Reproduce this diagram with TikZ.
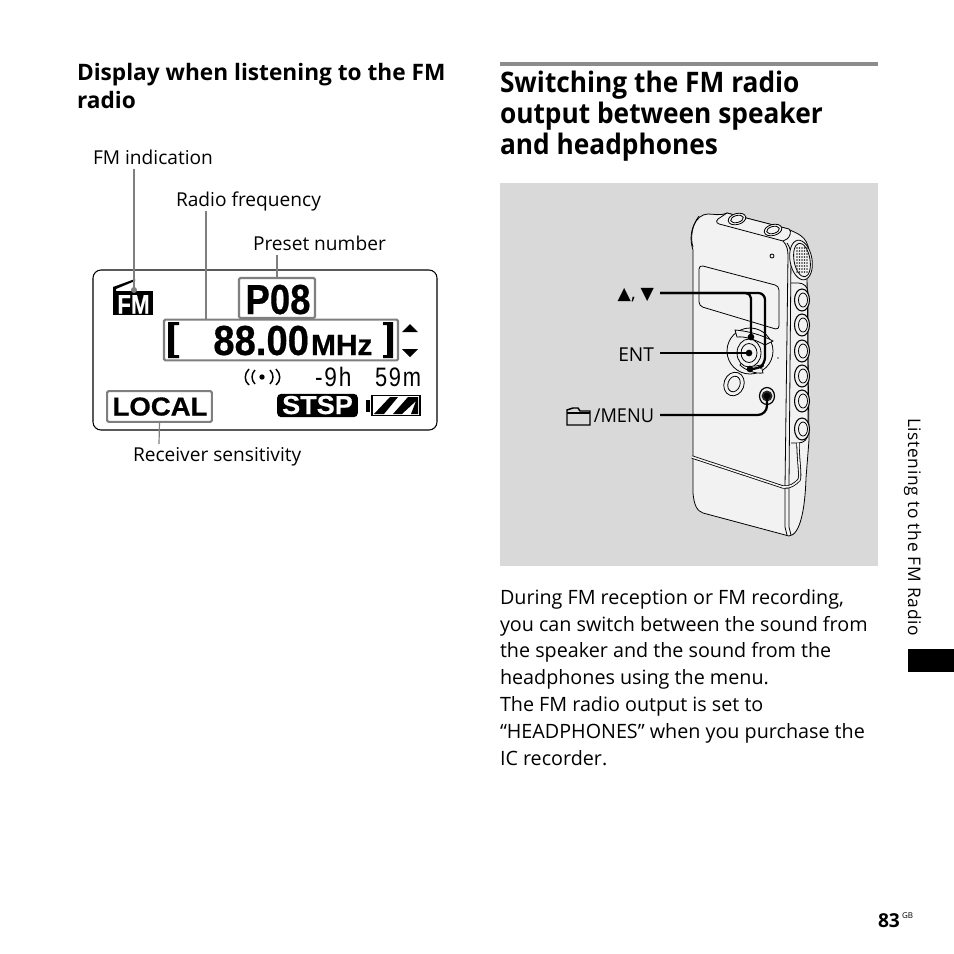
\documentclass[tikz,border=0pt]{standalone}
\usepackage{fontspec}
\setmainfont{Open Sans}
\newfontfamily\lcdfont{Liberation Sans}
\newfontfamily\lcdbold[UprightFont=* Bold,FakeBold=0.5]{Liberation Sans}
\newfontfamily\symfont{DejaVu Sans}
\newcommand{\fs}[1]{\fontsize{#1}{#1}\selectfont}
\definecolor{panel}{HTML}{D9D9D9}
\definecolor{leadgrey}{HTML}{7F7F7F}
\definecolor{devbody}{HTML}{F2F2F2}
\usetikzlibrary{calc}
\tikzset{
  every node/.style={inner sep=0pt,outer sep=0pt},
  h2text/.style={anchor=base west,font=\fs{17}\bfseries},
  h1text/.style={anchor=base west,font=\fs{21.2}\bfseries},
  bodytext/.style={anchor=base west,font=\fs{14.8}},
  labeltext/.style={anchor=base west,font=\fs{14.35}},
  lcdbox/.style={draw=leadgrey,line width=1.6pt,rounded corners=1pt},
  greylead/.style={draw=leadgrey,line width=0.9pt},
  blacklead/.style={draw=black,line width=1.7pt,rounded corners=4pt},
  leaddot/.style={circle,fill=black,minimum size=5pt},
  greydot/.style={circle,fill=leadgrey,minimum size=5pt},
  dev/.style={draw=black,line width=0.6pt},
  devfill/.style={draw=black,line width=0.6pt,fill=devbody},
}
\begin{document}
\begin{tikzpicture}[x=0.75pt,y=-0.75pt]
\useasboundingbox (0,0) rectangle (954,954);
\fill[white] (0,0) rectangle (954,954);
% headings
\node[h2text] (h2a) at (77,80) {Display when listening to the FM};
\node[h2text] (h2b) at (77,108) {radio};
\fill[black!45] (500,62) rectangle (878,66);
\node[h1text] (h1a) at (500,92.5) {\scalebox{0.93}[1]{Switching the FM radio}};
\node[h1text] (h1b) at (500,123.5) {\scalebox{0.93}[1]{output between speaker}};
\node[h1text] (h1c) at (500,154.5) {\scalebox{0.93}[1]{and headphones}};
% LCD
\draw[black,line width=0.8pt,rounded corners=6pt] (93,270) rectangle (437,430);
\node[lcdbox,minimum width=57pt,minimum height=30pt] (p08box) at (277,298) {};
\node[lcdbox,minimum width=175.5pt,minimum height=30.5pt] (freqbox) at (281,340) {};
\node[lcdbox,minimum width=78.5pt,minimum height=23pt] (localbox) at (159.5,406.5) {};
\node[anchor=base,font=\lcdbold\fs{31.5}] (p08) at (278,314) {\scalebox{0.87}[1]{P08}};
\node[anchor=base east,font=\lcdbold\fs{31.5}] (freq) at (309,355) {\scalebox{0.91}[1]{88.00}};
\node[anchor=base west,font=\lcdbold\fs{22}] (mhz) at (311,355) {\scalebox{1.02}[1]{MHz}};
\fill (168,322) -- (179,322) -- (179,325) -- (174,325) -- (174,355) -- (179,355) -- (179,358) -- (168,358) -- cycle;
\fill (393,322) -- (383,322) -- (383,325) -- (387,325) -- (387,355) -- (383,355) -- (383,358) -- (393,358) -- cycle;
\fill (410,324) -- (418,332) -- (402,332) -- cycle;
\fill (410,357) -- (418,349) -- (402,349) -- cycle;
\node[anchor=base west,font=\lcdfont\fs{20}\addfontfeature{LetterSpace=8}] (time) at (315,386) {\scalebox{0.85}[1]{-9h}};
\node[anchor=base west,font=\lcdfont\fs{20}\addfontfeature{LetterSpace=8}] (time2) at (375,386) {\scalebox{0.82}[1]{59m}};
\fill (262,377) circle (2pt);
\draw[line width=1.1pt] (255,370) .. controls (251,374) and (251,380) .. (255,384);
\draw[line width=1.1pt] (249,369) .. controls (244,374) and (244,381) .. (249,385);
\draw[line width=1.1pt] (270,370) .. controls (274,374) and (274,380) .. (270,384);
\draw[line width=1.1pt] (276,369) .. controls (281,374) and (281,381) .. (276,385);
\node[anchor=base,font=\lcdbold\fs{19.5}] (local) at (160,415.5) {\scalebox{1.06}[1]{LOCAL}};
\node[fill=black,rounded corners=3pt,minimum width=60.5pt,minimum height=17.5pt] (stspbox) at (317.5,405.5) {};
\node[anchor=base,text=white,font=\lcdbold\fs{19.5}] (stsp) at (317.5,414) {\scalebox{1.04}[1]{STSP}};
\draw[line width=1.4pt] (372,395.5) rectangle (420,415.5);
\fill (366,400) rectangle (370,412);
\fill (374,414) -- (390,397) -- (398,397) -- (384,414) -- cycle;
\fill (393,414) -- (408,397) -- (418,397) -- (418,414) -- (411,414) -- (416,401) -- (402,414) -- cycle;
\node[fill=black,minimum width=30pt,minimum height=18pt] (fmbox) at (133,303) {};
\node[anchor=base,text=white,font=\lcdbold\fs{20}] (fm) at (133.5,313.5) {\scalebox{0.84}[1]{FM}};
\fill (113,292) -- (113,287) -- (135,279) -- (135,281) -- (116,289) -- (116,292) -- cycle;
% LCD labels
\node[labeltext] (lfm) at (93,164) {FM indication};
\node[labeltext] (lrf) at (176,206) {Radio frequency};
\node[labeltext] (lpn) at (253,250) {Preset number};
\node[labeltext] (lrs) at (133,461) {Receiver sensitivity};
\coordinate (fmtop) at (134,169);
\coordinate (rftop) at (206,211);
\coordinate (pntop) at (277,255);
\coordinate (rsbot) at (159,444);
\node[greydot,minimum size=4.5pt] (fmdot) at (134,290) {};
\draw[greylead] (fmtop) -- (fmdot.center);
\draw[greylead] (rftop) -- (206,319);
\draw[greylead] (pntop) -- (p08box.north);
\draw[greylead] (localbox.south) -- (rsbot);
% Grey panel
\fill[panel] (500,183) rectangle (878,566);
% Device
\path[devfill] (693,493) -- (693,250) .. controls (687,232) and (696,214) .. (708,214)
  .. controls (714,214) and (720,216) .. (727,213) -- (788,229)
  .. controls (795,233) and (808,235) .. (809,252) .. controls (811,262) and (808,272) .. (807,275)
  -- (809,440) -- (806,478) .. controls (805,510) and (800,535) .. (789,536)
  -- (703,513) .. controls (697,511) and (694,505) .. (693,493) -- cycle;
% top plate
\draw[devfill] (727,213) -- (789,229) .. controls (792,231) and (790,237) .. (787,239) -- (783,241)
  -- (723,225) .. controls (717,224) and (715,222) .. (718,219) -- cycle;
\draw[dev] (699,216) .. controls (692,225) and (690,238) .. (693,247);
\draw[devfill,rotate around={15:(737,219)}] (737,219) ellipse (9 and 5.5);
\draw[dev,rotate around={15:(737,219)}] (737,219) ellipse (6.5 and 3.5);
\draw[devfill,rotate around={15:(773,230)}] (773,230) ellipse (9 and 5.5);
\draw[dev,rotate around={15:(773,230)}] (773,230) ellipse (6.5 and 3.5);
\draw[dev] (772,256) circle (2);
% front-right edges
\draw[dev] (783,241) .. controls (787,245) and (788,250) .. (788,256) -- (785,487) -- (785,527) -- (787,535);
\draw[dev] (787,243) .. controls (790,247) and (791,252) .. (791,256) -- (789,485) -- (789,527) -- (791,535);
% microphone
\draw[devfill,rotate around={10:(801,260)}] (801,260) ellipse (11 and 20);
\draw[dev,rotate around={10:(802,260)}] (802,260) ellipse (8 and 17);
\foreach \dx in {-5,-2.5,0,2.5,5} \foreach \dy in {-12,-9,-6,-3,0,3,6,9,12}
  \fill[black!85] (802+\dx,260+\dy) circle (0.9);
% LCD window
\draw[dev,rounded corners=3pt] (699,265) -- (779,286) -- (779,330) -- (699,306) -- cycle;
% side button strip
\draw[dev,rounded corners=7pt] (791,283) -- (808,283) -- (808,443) -- (791,443);
\foreach \yy in {300,325,351,376,401,429} {
  \draw[devfill,line width=0.8pt] (802,\yy) ellipse (7.5 and 11);
  \draw[dev] (803,\yy) ellipse (4.5 and 7);
}
% control pad
\draw[dev] (750,351) ellipse (23 and 23);
\draw[devfill] (735,330) .. controls (748,331) and (762,335) .. (773,341) -- (765,345) .. controls (756,340) and (745,336) .. (737,337) -- cycle;
\draw[devfill] (740,365) .. controls (745,370) and (755,374) .. (763,373) -- (761,365) .. controls (755,367) and (746,366) .. (742,362) -- cycle;
\draw[devfill] (749,353) ellipse (12 and 14);
\draw[dev] (749,353) ellipse (8 and 9.5);
\fill[black!70] (778,358) circle (0.8);
% round buttons
\draw[devfill,rotate around={-20:(734,384)}] (734,384) ellipse (10 and 12);
\draw[dev,rotate around={-20:(734,384)}] (734,384) ellipse (6 and 8);
\draw[devfill,line width=0.9pt] (767,396) ellipse (7.5 and 8.5);
\fill[black!85] (767,396) circle (5.5);
% band
\draw[dev,double=devbody,double distance=1.2pt] (692,457) -- (783,487) .. controls (790,488) and (795,484) .. (799,480) .. controls (801,476) and (798,460) .. (798,443);
% leaders
\node[leaddot] (updot) at (751,337) {};
\node[leaddot] (entdot) at (749,353) {};
\node[leaddot] (downdot) at (750,369) {};
\node[leaddot] (menudot) at (767,396) {};
% labels on panel
\node[anchor=base east,font=\fs{14.35}] (larrows) at (654,299) {{\symfont\fs{13}▲}, {\symfont\fs{13}▼}};
\node[anchor=base east,font=\fs{14.35}] (lent) at (654,361) {ENT};
\node[anchor=base east,font=\fs{14.35}] (lmenu) at (654,422) {\scalebox{0.95}[1]{/MENU}};
\draw[line width=1.1pt] (590,425) -- (567,425) -- (567,410) -- (573,408) -- (578,408) -- (580,411) -- (590,411) -- cycle;
\draw[line width=1.1pt] (567,413) -- (590,413);
\coordinate (a1) at (660,293);
\coordinate (a2) at (660,353);
\coordinate (a3) at (660,415);
\draw[blacklead] (a1) -- (751,293) -- (updot.center);
\draw[blacklead,rounded corners=5pt] (a1) -- (765,293) -- (765,364) -- (758,369) -- (downdot.center);
\draw[blacklead] (a2) -- (entdot.center);
\draw[blacklead,rounded corners=7pt] (a3) -- (767,415) -- (menudot.center);
% body
\node[bodytext] (b1) at (500,604) {During FM reception or FM recording,};
\node[bodytext] (b2) at (500,631) {you can switch between the sound from};
\node[bodytext] (b3) at (500,657) {the speaker and the sound from the};
\node[bodytext] (b4) at (500,684) {headphones using the menu.};
\node[bodytext] (b5) at (500,711) {The FM radio output is set to};
\node[bodytext] (b6) at (500,738) {“HEADPHONES” when you purchase the};
\node[bodytext] (b7) at (500,765) {IC recorder.};
% side tab
\node[rotate=-90,anchor=base west,font=\fs{13}\addfontfeature{LetterSpace=4}] (side) at (908,418) {Listening to the FM Radio};
\fill[black] (908,649) rectangle (954,672);
% page number
\node[anchor=base west,font=\fs{14.4}\bfseries] (pg) at (878,927) {83};
\node[anchor=base west,font=\fs{6}] (gb) at (902,918) {GB};
\end{tikzpicture}
\end{document}
